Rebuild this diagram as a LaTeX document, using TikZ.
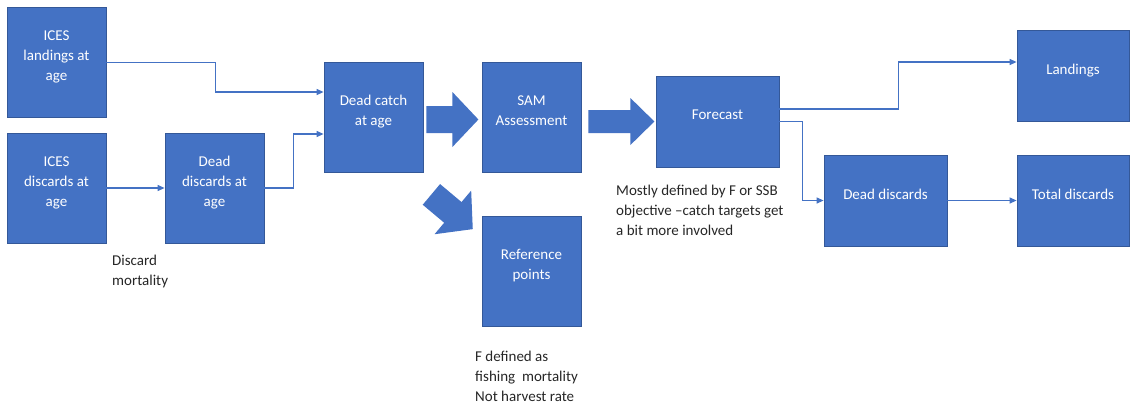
\documentclass[tikz,border=0pt]{standalone}
\usepackage{fontspec}
\setmainfont{Carlito}
\usetikzlibrary{arrows.meta,positioning,calc}
\definecolor{boxblue}{RGB}{68,114,196}
\definecolor{boxedge}{RGB}{52,88,152}
\definecolor{notegray}{RGB}{38,38,38}
% fat arrow: origin, angle, shaft length, shaft half width, head length, head half width
\newcommand{\fatarrow}[6]{\fill[boxblue,shift={#1},rotate=#2] (0,-#4) -- (#3,-#4) -- (#3,-#6) -- ({#3+#5},0) -- (#3,#6) -- (#3,#4) -- (0,#4) -- cycle;}

\begin{document}
\begin{tikzpicture}[x=1pt,y=-1pt,font=\fontsize{15}{20}\selectfont,
  box/.style={draw=boxedge,line width=0.8pt,fill=boxblue,text=white,align=center,minimum width=99pt,minimum height=110pt,inner sep=2pt,
    execute at end node={\rule[-13pt]{0pt}{13pt}}},
  widebox/.style={box,minimum width=123pt,minimum height=91pt},
  link/.style={draw=boxblue,line width=1.2pt,-{Triangle[length=7pt,width=6pt]}},
  note/.style={text=notegray,align=left,anchor=north west,inner sep=0pt}]
 \useasboundingbox (0,0) rectangle (1130,405);
 % input side
 \node[box] (il) at (56.5,62.5) {ICES\\landings at\\age};
 \node[box] (id) at (56.5,188) {ICES\\discards at\\age};
 \node[box] (dda) at (214.5,188) {Dead\\discards at\\age};
 \node[box] (dc) at (373.5,117) {Dead catch\\at age};
 \node[box] (sam) at (531.5,117) {SAM\\Assessment};
 \node[box] (ref) at (531.5,271) {Reference\\points};
 % output side
 \node[widebox] (fc) at (717.5,121.5) {Forecast};
 \node[widebox] (dd) at (885.5,200.5) {Dead discards};
 \node[widebox,minimum width=112pt] (land) at (1073,76) {Landings};
 \node[widebox,minimum width=112pt] (tot) at (1073,200.5) {Total discards};
 % notes
 \node[note] (dm) at (112,255) {Discard\\mortality};
 \node[note] (obj) at (616,185) {Mostly defined by F or SSB\\objective --catch targets get\\a bit more involved};
 \node[note] (fdef) at (475,351) {F defined as\\fishing~ mortality\\Not harvest rate};
 % thin connectors
 \draw[link] (il.east) -- ++(109,0) |- ($(dc.west)+(0,-25)$);
 \draw[link] (id.east) -- (dda.west);
 \draw[link] (dda.east) -- ++(29,0) |- ($(dc.west)+(0,17)$);
 \draw[link] ($(fc.east)+(0,-12.5)$) -- ++(119,0) |- ($(land.west)+(0,-14)$);
 \draw[link] (fc.east) -- ++(23,0) |- (dd.west);
 \draw[link] (dd.east) -- (tot.west);
 % fat arrows
 \fatarrow{($(dc.east)+(3,2.5)$)}{0}{26}{13.5}{26}{27.5}
 \fatarrow{($(sam.east)+(7,4.5)$)}{0}{42}{11.5}{24}{23.5}
 \fatarrow{($(dc.south east)+(8,22)$)}{-40}{28}{13.5}{26}{28.5}
\end{tikzpicture}
\end{document}
